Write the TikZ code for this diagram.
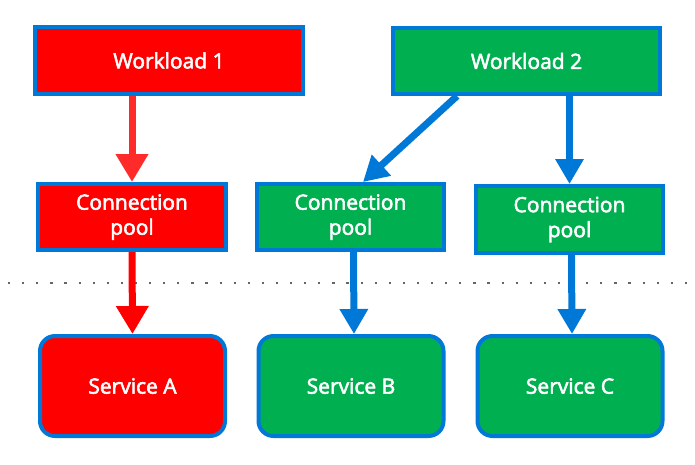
\documentclass[tikz,border=0pt]{standalone}
\usepackage{fontspec}
\setmainfont{Open Sans}
\newfontfamily\boxfont{Open Sans}[FakeBold=2.6]
\usetikzlibrary{arrows.meta,calc}
\definecolor{bord}{HTML}{0078D7}
\definecolor{fred}{HTML}{FF0000}
\definecolor{fgreen}{HTML}{00B050}
\definecolor{lred}{HTML}{FF2A2A}
\tikzset{
  box/.style={draw=bord,line width=4pt,inner sep=0pt,text=white,align=center,
    font=\boxfont\fontsize{21}{25}\selectfont},
  redbox/.style={box,fill=fred},
  greenbox/.style={box,fill=fgreen},
  svc/.style={rounded corners=15pt,minimum width=185pt,minimum height=100pt},
  redarrow/.style={line width=7pt,-{Triangle[length=28pt,width=31pt]}},
  bluearrow/.style={draw=bord,line width=7pt,-{Triangle[length=25pt,width=27pt]}},
}
\begin{document}
\begin{tikzpicture}[x=1pt,y=-1pt]
\useasboundingbox (0,0) rectangle (695,464);
% top row
\node[redbox,minimum width=268pt,minimum height=67pt] (W1) at (169,60.5) {Workload 1};
\node[greenbox,minimum width=267pt,minimum height=66pt] (W2) at (526.5,61) {Workload 2};
% connection pools
\node[redbox,minimum width=188pt,minimum height=66pt] (CP1) at (132,217) {Connection\\pool};
\node[greenbox,minimum width=187pt,minimum height=66pt] (CP2) at (350.5,217) {Connection\\pool};
\node[greenbox,minimum width=187pt,minimum height=67pt] (CP3) at (569.5,219.5) {Connection\\pool};
% services
\node[redbox,svc] (SA) at (132.5,386) {Service A};
\node[greenbox,svc] (SB) at (351,386) {Service B};
\node[greenbox,svc] (SC) at (570,386) {Service C};
% dotted separator
\coordinate (dl) at (8,283);
\coordinate (dr) at (690,283);
\draw[gray!80!black,line width=2.2pt,dash pattern=on 2.2pt off 11.9pt] (dl) -- (dr);
% arrows
\draw[redarrow,draw=lred,fill=lred] (W1.south -| CP1.north) -- (CP1.north);
\draw[redarrow,draw=fred,fill=fred] (CP1.south) -- (SA.north);
\draw[bluearrow,fill=bord] ($(W2.south west)+(66,0)$) -- ($(CP2.north west)+(108,0)$);
\draw[bluearrow,fill=bord] (W2.south -| CP3.north) -- (CP3.north);
\draw[bluearrow,fill=bord] ($(CP2.south)+(3,0)$) -- ($(SB.north)+(3,0)$);
\draw[bluearrow,fill=bord] ($(CP3.south)+(2,0)$) -- ($(SC.north)+(2,0)$);
\end{tikzpicture}
\end{document}
